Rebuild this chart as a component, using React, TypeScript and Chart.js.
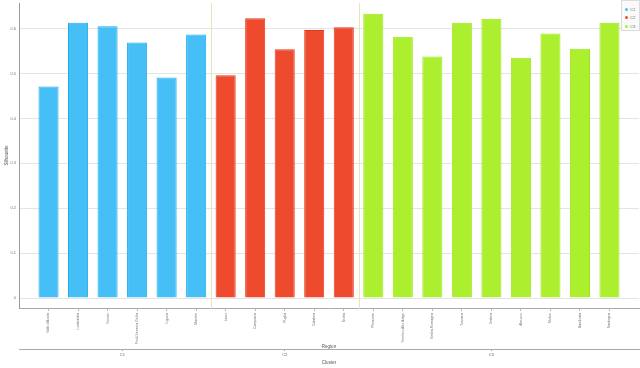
import React, { useEffect, useRef } from "react";
import { Chart, registerables } from "chart.js";

Chart.register(...registerables);

const clusterNames = ["C1", "C2", "C3"];
const regionsC1 = ["Valle d'Aosta", "Lombardia", "Veneto", "Friuli-Venezia Giulia", "Liguria", "Marche"];
const valuesC1 = [0.471, 0.613, 0.605, 0.569, 0.491, 0.587];
const regionsC2 = ["Lazio", "Campania", "Puglia", "Calabria", "Sicilia"];
const valuesC2 = [0.496, 0.623, 0.554, 0.597, 0.603];
const regionsC3 = ["Piemonte", "Trentino-Alto Adige", "Emilia-Romagna", "Toscana", "Umbria", "Abruzzo", "Molise", "Basilicata", "Sardegna"];
const valuesC3 = [0.633, 0.582, 0.538, 0.613, 0.622, 0.535, 0.589, 0.555, 0.613];
const yTickValues = [0, 0.1, 0.2, 0.3, 0.4, 0.5, 0.6];
const yTickLabels = ["0", "0.1", "0.2", "0.3", "0.4", "0.5", "0.6"];

const fills = ["#45bff6", "#ee4a2e", "#abef2e"];
const borders = ["#1caef0", "#e6361a", "#a0e51f"];

const clusterRegions = [regionsC1, regionsC2, regionsC3];
const clusterValues = [valuesC1, valuesC2, valuesC3];
const allRegions = clusterRegions.flat();

const starts: number[] = [];
{
  let acc = 0;
  clusterRegions.forEach((r) => {
    starts.push(acc);
    acc += r.length;
  });
}
const centers = clusterRegions.map((r, i) => starts[i] + (r.length - 1) / 2);
const boundaries = starts.slice(1).map((s) => s - 0.5);

const FONT = "'Liberation Sans', Arial, sans-serif";

const separatorPlugin = {
  id: "clusterSeparators",
  beforeDatasetsDraw(chart: any) {
    const { ctx, chartArea, scales } = chart;
    ctx.save();
    ctx.strokeStyle = "#e2e8b0";
    ctx.lineWidth = 1;
    boundaries.forEach((b) => {
      const x = Math.round(scales.x.getPixelForValue(b)) + 0.5;
      ctx.beginPath();
      ctx.moveTo(x, chartArea.top);
      ctx.lineTo(x, chartArea.bottom + 1);
      ctx.stroke();
    });
    ctx.restore();
  },
};

export default function App() {
  const ref = useRef<HTMLCanvasElement | null>(null);

  useEffect(() => {
    document.body.style.margin = "0";
    if (!ref.current) return;
    const datasets = clusterNames.map((name, ci) => ({
      label: name,
      data: clusterValues[ci].map((v, i) => ({ x: starts[ci] + i, y: v })),
      backgroundColor: fills[ci],
      borderColor: borders[ci],
      borderWidth: 1,
      barPercentage: 0.68,
      categoryPercentage: 1,
      stack: "s",
    }));
    const chart = new Chart(ref.current, {
      type: "bar",
      data: { datasets },
      plugins: [separatorPlugin],
      options: {
        animation: false,
        responsive: false,
        layout: { padding: { top: 0, right: 1, left: 0, bottom: 0 } },
        plugins: { legend: { display: false }, tooltip: { enabled: false } },
        scales: {
          x: {
            type: "linear",
            position: "bottom",
            weight: 0,
            stacked: true,
            offset: false,
            min: -1,
            max: allRegions.length,
            afterBuildTicks: (s: any) => {
              s.ticks = allRegions.map((_, i) => ({ value: i }));
            },
            afterFit: (s: any) => {
              s.height = 41;
            },
            ticks: {
              autoSkip: false,
              minRotation: 90,
              maxRotation: 90,
              padding: 2,
              color: "#707070",
              font: { size: 3.5, family: FONT },
              callback: (v: any) => allRegions[v] ?? "",
            },
            grid: { offset: false, drawOnChartArea: false, drawTicks: true, tickLength: 3, color: "#bbb" },
            border: { color: "#aaa" },
            title: { display: true, text: "Region", color: "#555", font: { size: 4.5, family: FONT }, padding: 0 },
          },
          x2: {
            type: "linear",
            axis: "x",
            position: "bottom",
            weight: 1,
            offset: false,
            min: -1,
            max: allRegions.length,
            afterBuildTicks: (s: any) => {
              s.ticks = centers.map((c) => ({ value: c }));
            },
            afterFit: (s: any) => {
              s.height = 19;
            },
            ticks: {
              autoSkip: false,
              maxRotation: 0,
              padding: 1,
              color: "#666",
              font: { size: 4, family: FONT },
              callback: (v: any) => {
                const i = centers.indexOf(v);
                return i >= 0 ? clusterNames[i] : "";
              },
            },
            grid: { offset: false, drawOnChartArea: false, drawTicks: true, tickLength: 2, color: "#aaa" },
            border: { color: "#aaa" },
            title: { display: true, text: "Cluster", color: "#555", font: { size: 4.5, family: FONT }, padding: { top: 0, bottom: 3 } },
          },
          y: {
            stacked: false,
            min: -0.0221,
            max: 0.657,
            afterBuildTicks: (s: any) => {
              s.ticks = yTickValues.map((v) => ({ value: v }));
            },
            afterFit: (s: any) => {
              s.width = 19;
            },
            ticks: {
              padding: 3,
              color: "#777",
              font: { size: 4, family: FONT, lineHeight: 0.01 },
              callback: (v: any) => {
                const i = yTickValues.indexOf(v);
                return i >= 0 ? yTickLabels[i] : "";
              },
            },
            grid: { color: "#e4e4e4", drawTicks: false },
            border: { color: "#999" },
            title: { display: true, text: "Silhouette", color: "#555", font: { size: 4.5, family: FONT }, padding: { top: 4, bottom: 0 } },
          },
        },
      } as any,
    });
    return () => chart.destroy();
  }, []);

  return (
    <div style={{ position: "relative", width: 640, height: 368 }}>
      <canvas ref={ref} width={640} height={368} style={{ display: "block", width: 640, height: 368 }} />
      <div
        style={{
          position: "absolute",
          right: 0,
          top: 0,
          width: 19,
          height: 31,
          border: "1px solid #dcdcdc",
          background: "#fafafa",
          fontFamily: FONT,
          fontSize: 4,
          color: "#666",
          boxSizing: "border-box",
          paddingTop: 4,
        }}
      >
        {clusterNames.map((n, i) => (
          <div key={n} style={{ display: "flex", alignItems: "center", height: 8.5, paddingLeft: 3 }}>
            <span style={{ width: 3, height: 3, borderRadius: "50%", background: fills[i], display: "inline-block", marginRight: 2 }} />
            <span>{n}</span>
          </div>
        ))}
      </div>
    </div>
  );
}
